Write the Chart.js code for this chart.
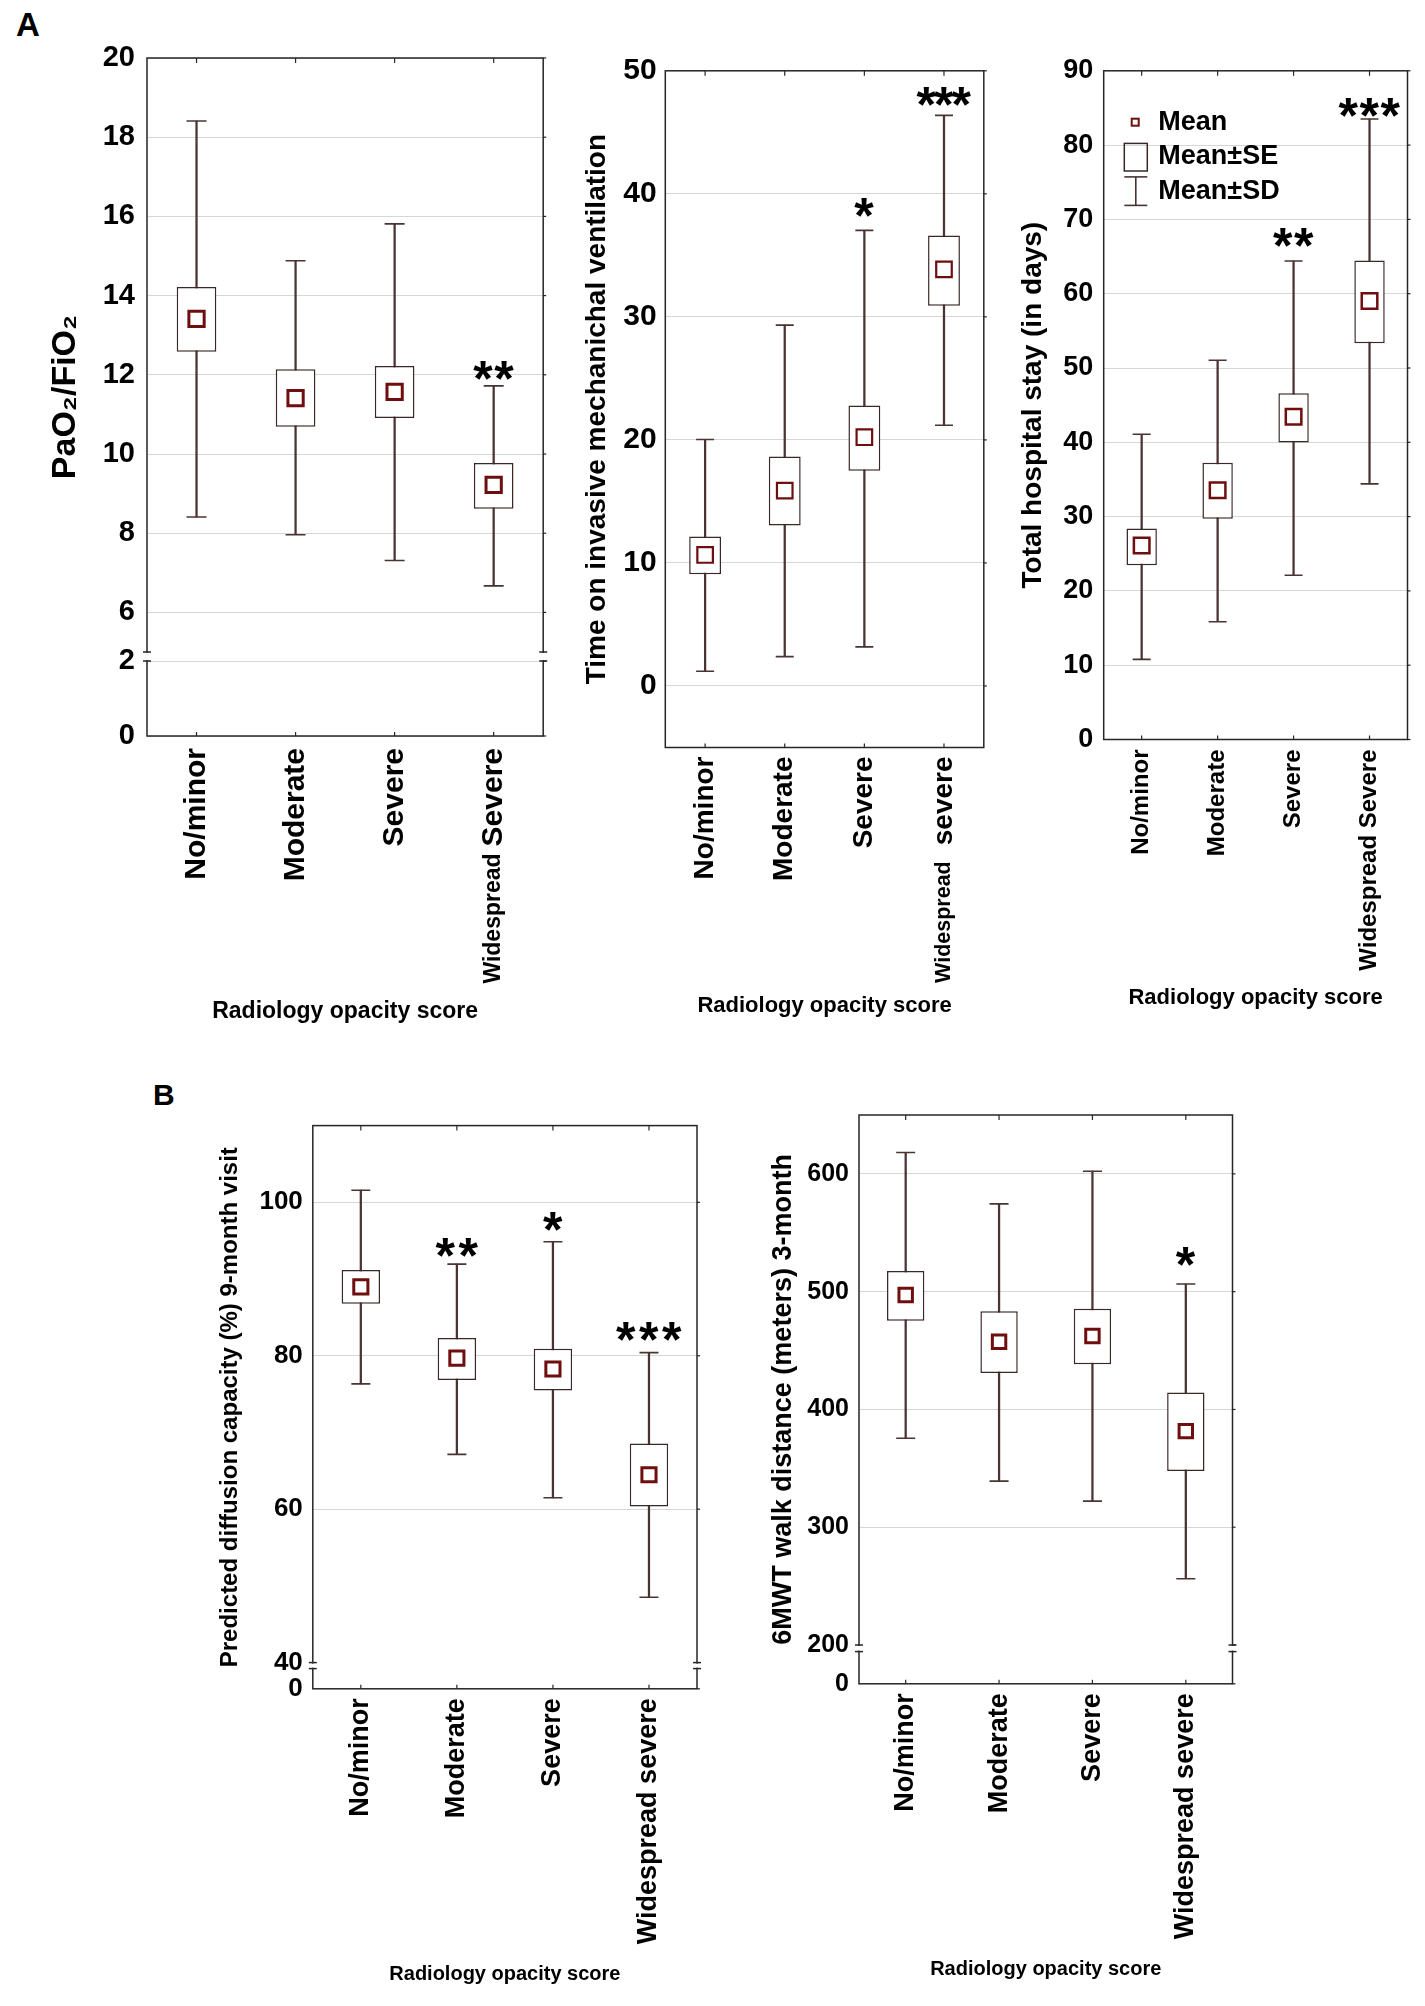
<!DOCTYPE html>
<html><head><meta charset="utf-8">
<script src="https://cdn.jsdelivr.net/npm/chart.js@4.4.1/dist/chart.umd.min.js"></script>
<style>
html,body{margin:0;padding:0;background:#fff;}
body{width:1425px;height:2006px;position:relative;overflow:hidden;font-family:"Liberation Sans",Arial,sans-serif;}
canvas{position:absolute;}
.lbl{position:absolute;font-weight:bold;line-height:1;color:#000;}
</style></head><body>
<div class="lbl" style="left:16px;top:7.7px;font-size:33px">A</div>
<div class="lbl" style="left:153px;top:1080px;font-size:30px">B</div>
<canvas id="cA1"></canvas><canvas id="cA2"></canvas><canvas id="cA3"></canvas>
<canvas id="cB1"></canvas><canvas id="cB2"></canvas>
<script>
// ---------------- DATA ----------------
const catsA1 = ['No/minor', 'Moderate', 'Severe', 'Widespread Severe'];
const catsA2 = ['No/minor', 'Moderate', 'Severe', 'Widespread severe'];
const catsA3 = ['No/minor', 'Moderate', 'Severe', 'Widespread Severe'];
const catsB  = ['No/minor', 'Moderate', 'Severe', 'Widespread severe'];
const xTitle = 'Radiology opacity score';

// A1: PaO2/FiO2
const a1Mean   = [13.41, 11.41, 11.57, 9.22];
const a1SeLow  = [12.58, 10.69, 10.91, 8.62];
const a1SeHigh = [14.22, 12.14, 12.22, 9.77];
const a1SdLow  = [8.41, 7.96, 7.31, 6.67];
const a1SdHigh = [18.41, 14.88, 15.81, 11.72];
const a1Sig    = ['', '', '', '**'];
const a1SigAt  = [null, null, null, 12.1];
const a1Ticks  = [0, 2, 6, 8, 10, 12, 14, 16, 18, 20];

// A2: time on invasive mechanical ventilation
const a2Mean   = [10.65, 15.88, 20.22, 33.86];
const a2SeLow  = [9.08, 13.04, 17.49, 30.9];
const a2SeHigh = [12.14, 18.65, 22.8, 36.62];
const a2SdLow  = [1.2, 2.39, 3.18, 21.19];
const a2SdHigh = [20.03, 29.33, 37.03, 46.38];
const a2Sig    = ['', '', '*', '***'];
const a2SigAt  = [null, null, 38.86, 47.9];
const a2Ticks  = [0, 10, 20, 30, 40, 50];

// A3: total hospital stay
const a3Mean   = [26.12, 33.54, 43.43, 59.02];
const a3SeLow  = [23.46, 29.7, 39.97, 53.33];
const a3SeHigh = [28.4, 37.25, 46.59, 64.46];
const a3SdLow  = [10.78, 15.85, 22.1, 34.4];
const a3SdHigh = [41.08, 51.04, 64.4, 83.51];
const a3Sig    = ['', '', '**', '***'];
const a3SigAt  = [null, null, 67.55, 85.0];
const a3Ticks  = [0, 10, 20, 30, 40, 50, 60, 70, 80, 90];

// B1: predicted diffusion capacity
const b1Mean   = [88.98, 79.69, 78.27, 64.49];
const b1SeLow  = [86.79, 76.84, 75.46, 60.36];
const b1SeHigh = [91.17, 82.3, 80.92, 68.57];
const b1SdLow  = [76.33, 67.14, 61.48, 48.52];
const b1SdHigh = [101.58, 91.94, 94.85, 80.41];
const b1Sig    = ['', '**', '*', '***'];
const b1SigAt  = [null, 94.1, 97.55, 83.1];
const b1Ticks  = [0, 40, 60, 80, 100];

// B2: 6MWT walk distance
const b2Mean   = [497.2, 457.5, 462.4, 381.6];
const b2SeLow  = [475.4, 431, 438.3, 347.8];
const b2SeHigh = [517.5, 483.3, 485.6, 414.4];
const b2SdLow  = [375.6, 339.1, 322.2, 256.3];
const b2SdHigh = [618.2, 574.5, 602.3, 506.5];
const b2Sig    = ['', '', '', '*'];
const b2SigAt  = [null, null, null, 529.7];
const b2Ticks  = [0, 200, 300, 400, 500, 600];

const legendLabels = ['Mean', 'Mean\u00B1SE', 'Mean\u00B1SD'];

// ---------------- STYLE ----------------
const FONT = '"Liberation Sans", Arial, sans-serif';
Chart.defaults.font.family = FONT;
const AXIS = '#262626', GRID = '#d6d6d6', BOX = '#3a2828', WHISK = '#4a3333', MEAN = '#6e0e0e';

// broken linear axis (axis break between two value ranges)
class BrokenLinearScale extends Chart.LinearScale {
  getPixelForValue(value) {
    const b = this.options.brk;
    if (value === null || value === undefined || isNaN(value)) return NaN;
    const bottom = this.bottom, top = this.top;
    const yLow = bottom - b.lowPx, yHigh = yLow - b.gapPx;
    if (value <= b.lowTop) return bottom - (value - this.min) / (b.lowTop - this.min) * b.lowPx;
    if (value >= b.highBottom) return yHigh - (value - b.highBottom) / (this.max - b.highBottom) * (yHigh - top);
    return yLow - (value - b.lowTop) / (b.highBottom - b.lowTop) * b.gapPx;
  }
  getValueForPixel(pixel) {
    const b = this.options.brk;
    const bottom = this.bottom, top = this.top;
    const yLow = bottom - b.lowPx, yHigh = yLow - b.gapPx;
    if (pixel >= yLow) return this.min + (bottom - pixel) / b.lowPx * (b.lowTop - this.min);
    if (pixel <= yHigh) return b.highBottom + (yHigh - pixel) / (yHigh - top) * (this.max - b.highBottom);
    return b.lowTop + (yLow - pixel) / b.gapPx * (b.highBottom - b.lowTop);
  }
}
BrokenLinearScale.id = 'brokenLinear';
BrokenLinearScale.defaults = {};
Chart.register(BrokenLinearScale);

function line(ctx, x1, y1, x2, y2) { ctx.beginPath(); ctx.moveTo(x1, y1); ctx.lineTo(x2, y2); ctx.stroke(); }

const decor = {
  id: 'decor',
  afterDraw(chart) {
    const P = chart.config.options.plugins.decor;
    const ctx = chart.ctx, a = chart.chartArea, xs = chart.scales.x, ys = chart.scales.y;
    ctx.save();
    // frame
    ctx.strokeStyle = AXIS; ctx.lineWidth = 1.5;
    ctx.strokeRect(a.left, a.top, a.right - a.left, a.bottom - a.top);
    ctx.lineWidth = 1.2;
    xs.ticks.forEach((t, i) => {
      const px = xs.getPixelForTick(i);
      line(ctx, px, a.top, px, a.top + 5);
      line(ctx, px, a.bottom, px, a.bottom - 4);
    });
    ys.ticks.forEach((t, i) => {
      const py = ys.getPixelForTick(i);
      line(ctx, a.right, py, a.right + 3, py);
    });
    // axis break
    const b = ys.options.brk;
    if (b) {
      const y1 = ys.getPixelForValue(b.highBottom), y2 = ys.getPixelForValue(b.lowTop);
      [a.left, a.right].forEach(sx => {
        ctx.fillStyle = '#fff';
        ctx.fillRect(sx - 3, y1 + 1, 6, y2 - y1 - 2);
        ctx.strokeStyle = AXIS; ctx.lineWidth = 1.5;
        line(ctx, sx - 4, y1, sx + 4, y1);
        line(ctx, sx - 4, y2, sx + 4, y2);
      });
    }
    // significance stars
    ctx.fillStyle = '#000';
    ctx.font = 'bold ' + P.starSize + 'px ' + FONT;
    ctx.textAlign = 'left'; ctx.textBaseline = 'alphabetic';
    const m = ctx.measureText('*');
    const inkW = m.actualBoundingBoxRight + m.actualBoundingBoxLeft;
    const midOff = (m.actualBoundingBoxDescent - m.actualBoundingBoxAscent) / 2;
    P.sig.forEach((s, i) => {
      if (!s) return;
      const cx = xs.getPixelForTick(i), cy = ys.getPixelForValue(P.sigAt[i]);
      for (let k = 0; k < s.length; k++) {
        const sx = cx + (k - (s.length - 1) / 2) * P.starGap;
        ctx.fillText('*', sx - inkW / 2 + m.actualBoundingBoxLeft, cy - midOff);
      }
    });
    // mixed-size last category label
    if (P.mixed) {
      const px = xs.getPixelForTick(3), y0 = a.bottom + P.xTickPad;
      const words = P.cats[3].split(' ');
      ctx.save();
      ctx.translate(px, y0);
      ctx.rotate(-Math.PI / 2);
      ctx.textAlign = 'right'; ctx.textBaseline = 'middle'; ctx.fillStyle = '#000';
      ctx.font = 'bold ' + P.xTickSize + 'px ' + FONT;
      ctx.fillText(words[1], 0, 0);
      const w1 = ctx.measureText(words[1]).width;
      ctx.font = 'bold ' + P.mixed.size + 'px ' + FONT;
      ctx.fillText(words[0], -(w1 + P.mixed.gap), 0);
      ctx.restore();
    }
    // legend
    if (P.legend) {
      const L = a.left, T = a.top;
      ctx.strokeStyle = MEAN; ctx.lineWidth = 2;
      ctx.fillStyle = '#fff';
      ctx.fillRect(L + 28, T + 47.9, 7, 7);
      ctx.strokeRect(L + 28, T + 47.9, 7, 7);
      ctx.strokeStyle = BOX; ctx.lineWidth = 1.5;
      ctx.strokeRect(L + 20.6, T + 72.6, 23, 27.6);
      ctx.strokeStyle = WHISK; ctx.lineWidth = 1.6;
      line(ctx, L + 20.6, T + 106.1, L + 43.6, T + 106.1);
      line(ctx, L + 20.6, T + 134.6, L + 43.6, T + 134.6);
      line(ctx, L + 32.1, T + 106.1, L + 32.1, T + 134.6);
      ctx.fillStyle = '#000';
      ctx.font = 'bold 27px ' + FONT;
      ctx.textAlign = 'left'; ctx.textBaseline = 'middle';
      [51.4, 86.2, 121.2].forEach((dy, i) => ctx.fillText(legendLabels[i], L + 54.6, T + dy));
    }
    ctx.restore();
  }
};

function makePanel(id, P) {
  const cv = document.getElementById(id);
  cv.width = P.canvas.w; cv.height = P.canvas.h;
  Object.assign(cv.style, { left: P.canvas.x + 'px', top: P.canvas.y + 'px', width: P.canvas.w + 'px', height: P.canvas.h + 'px' });
  const Wy = P.plot.L - P.canvas.x;
  const padT = P.plot.T - P.canvas.y;
  const padR = P.canvas.x + P.canvas.w - P.plot.R;
  const Hx = P.canvas.y + P.canvas.h - P.plot.B;
  const yTitlePad = P.yTitle.mid - P.canvas.x - P.yTitle.size * 0.6;
  const xTitlePad = P.canvas.y + P.canvas.h - P.xTitle.mid - P.xTitle.size * 0.6;
  const hide = P.hideGrid || [];
  return new Chart(cv, {
    type: 'bar',
    data: {
      labels: P.cats,
      datasets: [
        { type: 'line', label: 'Mean', data: P.mean, showLine: false, pointStyle: 'rect',
          pointRadius: P.meanR, pointHoverRadius: P.meanR, pointBorderWidth: P.meanBW,
          pointBorderColor: MEAN, pointBackgroundColor: '#fff', order: 0 },
        { type: 'bar', label: 'Mean\u00B1SE', data: P.seLow.map((v, i) => [v, P.seHigh[i]]),
          backgroundColor: '#fff', borderColor: BOX, borderWidth: 1.5, borderSkipped: false,
          grouped: false, barPercentage: 0.4, categoryPercentage: 1, order: 1 },
        { type: 'line', label: 'SD high', data: P.sdHigh, showLine: false, pointStyle: 'line',
          pointRadius: P.capR, pointHoverRadius: P.capR, pointBorderWidth: 1.6, pointBorderColor: WHISK, order: 2 },
        { type: 'line', label: 'SD low', data: P.sdLow, showLine: false, pointStyle: 'line',
          pointRadius: P.capR, pointHoverRadius: P.capR, pointBorderWidth: 1.6, pointBorderColor: WHISK, order: 2 },
        { type: 'bar', label: 'Mean\u00B1SD', data: P.sdLow.map((v, i) => [v, P.sdHigh[i]]),
          backgroundColor: WHISK, borderWidth: 0, barThickness: 1.6, grouped: false, order: 3 }
      ]
    },
    options: {
      responsive: false, animation: false, events: [],
      devicePixelRatio: 1,
      layout: { padding: { left: 0, top: padT, right: padR, bottom: 0 } },
      plugins: {
        legend: { display: false }, tooltip: { enabled: false },
        decor: { sig: P.sig, sigAt: P.sigAt, starSize: P.starSize, starGap: P.starGap, mixed: P.mixed,
                 cats: P.cats, xTickPad: P.xTick.pad, xTickSize: P.xTick.size, legend: P.legend }
      },
      scales: {
        x: {
          type: 'category', offset: true,
          grid: { display: false, drawTicks: false }, border: { display: false },
          ticks: { autoSkip: false, minRotation: 90, maxRotation: 90, padding: P.xTick.pad, color: '#000',
                   font: { size: P.xTick.size, weight: 'bold' },
                   callback: function (v, i) { return (P.mixed && i === 3) ? '' : this.getLabelForValue(v); } },
          title: { display: true, text: xTitle, color: '#000',
                   font: { size: P.xTitle.size, weight: 'bold', lineHeight: 1.2 },
                   padding: { top: 0, bottom: xTitlePad } },
          afterFit: s => { s.height = Hx; }
        },
        y: {
          type: P.brk ? 'brokenLinear' : 'linear', min: P.yMin, max: P.yMax, brk: P.brk,
          grid: { color: c => (c.tick && hide.includes(c.tick.value)) ? 'rgba(0,0,0,0)' : GRID, drawTicks: false, lineWidth: 1 },
          border: { display: false },
          ticks: { padding: P.yTick.pad, color: '#000', font: { size: P.yTick.size, weight: 'bold' } },
          afterBuildTicks: s => { s.ticks = P.yTicks.map(v => ({ value: v })); },
          title: { display: true, text: P.yTitle.text, color: '#000',
                   font: { size: P.yTitle.size, weight: 'bold', lineHeight: 1.2 },
                   padding: { top: yTitlePad, bottom: 0 } },
          afterFit: s => { s.width = Wy; }
        }
      }
    },
    plugins: [decor]
  });
}

makePanel('cA1', {
  canvas: { x: 0, y: 0, w: 557, h: 1040 }, plot: { L: 147, T: 58, R: 549, B: 736 },
  cats: catsA1, mean: a1Mean, seLow: a1SeLow, seHigh: a1SeHigh, sdLow: a1SdLow, sdHigh: a1SdHigh,
  sig: a1Sig, sigAt: a1SigAt, yTicks: a1Ticks, yMin: 0, yMax: 20,
  brk: { lowTop: 2, highBottom: 5, lowPx: 75, gapPx: 9 },
  yTitle: { text: 'PaO\u2082/FiO\u2082', size: 34, mid: 65.3 }, xTitle: { size: 23, mid: 1011.5 },
  yTick: { size: 29, pad: 12 }, xTick: { size: 30, pad: 12 }, mixed: { size: 23, gap: 7 },
  meanR: 10.8, meanBW: 3, capR: 10, starSize: 50, starGap: 21
});
makePanel('cA2', {
  canvas: { x: 560, y: 10, w: 437, h: 1025 }, plot: { L: 665.3, T: 70.8, R: 989, B: 747.5 },
  cats: catsA2, mean: a2Mean, seLow: a2SeLow, seHigh: a2SeHigh, sdLow: a2SdLow, sdHigh: a2SdHigh,
  sig: a2Sig, sigAt: a2SigAt, yTicks: a2Ticks, yMin: -5, yMax: 50,
  yTitle: { text: 'Time on invasive mechanichal ventilation', size: 28, mid: 597 }, xTitle: { size: 22, mid: 1006.4 },
  yTick: { size: 30, pad: 8.6 }, xTick: { size: 28, pad: 9 }, mixed: { size: 21.5, gap: 16 },
  meanR: 11, meanBW: 2.2, capR: 9, starSize: 50, starGap: 17.5
});
makePanel('cA3', {
  canvas: { x: 1000, y: 10, w: 421, h: 1020 }, plot: { L: 1103.7, T: 70.8, R: 1413.3, B: 739.5 },
  cats: catsA3, mean: a3Mean, seLow: a3SeLow, seHigh: a3SeHigh, sdLow: a3SdLow, sdHigh: a3SdHigh,
  sig: a3Sig, sigAt: a3SigAt, yTicks: a3Ticks, yMin: 0, yMax: 90,
  yTitle: { text: 'Total hospital stay (in days)', size: 28, mid: 1033.3 }, xTitle: { size: 22, mid: 998.1 },
  yTick: { size: 27, pad: 10.4 }, xTick: { size: 24, pad: 10 }, mixed: null, legend: true,
  meanR: 11, meanBW: 2.5, capR: 9, starSize: 50, starGap: 21
});
makePanel('cB1', {
  canvas: { x: 200, y: 1100, w: 510, h: 900 }, plot: { L: 312.8, T: 1118.8, R: 702.5, B: 1688.8 },
  cats: catsB, mean: b1Mean, seLow: b1SeLow, seHigh: b1SeHigh, sdLow: b1SdLow, sdHigh: b1SdHigh,
  sig: b1Sig, sigAt: b1SigAt, yTicks: b1Ticks, yMin: 0, yMax: 110, hideGrid: [40],
  brk: { lowTop: 10, highBottom: 40, lowPx: 20.2, gapPx: 6 },
  yTitle: { text: 'Predicted diffusion capacity (%) 9-month visit', size: 24, mid: 229.9 }, xTitle: { size: 20, mid: 1974 },
  yTick: { size: 26, pad: 10 }, xTick: { size: 27, pad: 9.5 }, mixed: null,
  meanR: 10, meanBW: 3, capR: 9.5, starSize: 50, starGap: 23
});
makePanel('cB2', {
  canvas: { x: 750, y: 1090, w: 495, h: 910 }, plot: { L: 859, T: 1107.7, R: 1236.5, B: 1683.8 },
  cats: catsB, mean: b2Mean, seLow: b2SeLow, seHigh: b2SeHigh, sdLow: b2SdLow, sdHigh: b2SdHigh,
  sig: b2Sig, sigAt: b2SigAt, yTicks: b2Ticks, yMin: 0, yMax: 650, hideGrid: [200],
  brk: { lowTop: 100, highBottom: 200, lowPx: 32.2, gapPx: 6.6 },
  yTitle: { text: '6MWT walk distance (meters) 3-month', size: 27, mid: 783.9 }, xTitle: { size: 20, mid: 1969 },
  yTick: { size: 25, pad: 10 }, xTick: { size: 27, pad: 9.5 }, mixed: null,
  meanR: 9.5, meanBW: 3, capR: 9.5, starSize: 50, starGap: 23
});
</script>
</body></html>
